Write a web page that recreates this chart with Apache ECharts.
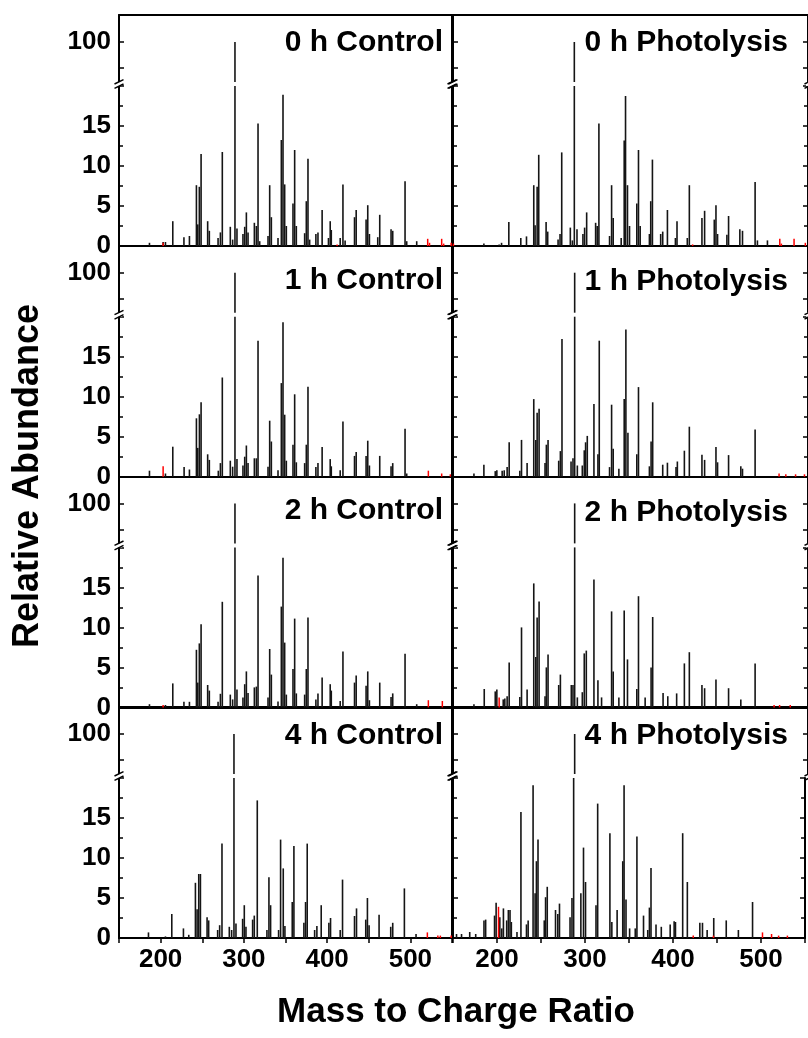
<!DOCTYPE html>
<html><head><meta charset="utf-8">
<script src="https://cdn.jsdelivr.net/npm/echarts@6/dist/echarts.min.js"></script>
<style>html,body{margin:0;padding:0;background:#fff}#c{width:808px;height:1038px}</style>
</head><body><div id="c"></div><script>
// ---------------- data (m/z, relative abundance) ----------------
const xTickLabels = [200, 300, 400, 500];
const lowerYTicks = [0, 5, 10, 15];
const upperYTicks = [100];
const panelTitles = ['0 h Control', '0 h Photolysis', '1 h Control', '1 h Photolysis',
                     '2 h Control', '2 h Photolysis', '4 h Control', '4 h Photolysis'];

const control0h = [[186.6,0.4],[203,0.5],[205.8,0.5],[214.6,3.1],[228,1.1],[234.6,1.25],[243,7.6],[244.6,2.7],[246.5,7.4],[248.6,11.5],[256.5,3.1],[258.5,1.9],[269,1],[271.8,1.7],[274.1,11.75],[283.7,2.4],[286.5,0.8],[289.3,100],[291.7,2.2],[298.9,1.5],[301,2.4],[303,4.2],[305,1.7],[312.6,2.9],[315,2.5],[317,15.3],[319,0.6],[329,1.25],[331,7.6],[333,3.6],[341,1],[345,13.25],[347,18.9],[349,7.7],[351,2.5],[359,5.3],[361,12],[363,2.5],[373,1.6],[375,5.6],[377,10.9],[379,0.8],[386.5,1.5],[389,1.7],[394,4.5],[401.6,1],[403.7,3.1],[405,2],[415.7,1],[419,7.7],[421.6,0.7],[432.9,3.6],[434.9,4.5],[446.8,3.3],[448.8,5.1],[450.8,1.5],[460.8,1.1],[463.2,3.9],[476.8,2.1],[478.8,1.9],[493.6,8.1],[495.6,0.6],[507.6,0.6]];
const photo0h = [[184.8,0.3],[202,0.2],[204.7,0.4],[212.9,3.0],[226.4,1.0],[232.8,1.2],[241,7.6],[242.5,2.6],[244.8,7.4],[246.6,11.4],[254.9,3.0],[256.7,1.8],[268.4,0.8],[270.6,1.5],[272.5,11.7],[282.2,2.3],[284.5,0.7],[286.7,100],[289.7,2.1],[296.4,1.5],[298.3,2.3],[300.6,4.2],[310.7,2.9],[312.5,2.5],[314.4,15.3],[326.4,1.25],[328.7,7.6],[330.5,3.5],[339.5,1],[342.9,13.2],[344.4,18.75],[346.6,7.6],[348.9,2.5],[357.1,5.3],[359,12],[360.9,2.5],[371.3,1.5],[372.8,5.6],[374.7,10.8],[384,1.5],[386.3,1.8],[391.6,4.5],[400.6,1],[402.4,3.1],[414,1],[416.3,7.6],[430.5,3.5],[433.5,4.4],[444.4,3.3],[446.3,5.1],[448.1,1.5],[458.6,1.4],[460.5,3.75],[473.2,2.1],[476.2,1.9],[490.4,8],[493,0.7],[504.3,0.7]];
const control1h = [[186.6,0.75],[205.8,0.4],[214.6,3.75],[228.2,1.2],[234.6,0.9],[243,7.3],[244.6,3.6],[246.6,7.8],[248.6,9.3],[256.5,2.8],[258.5,2.1],[269.3,0.75],[271.8,1.7],[274.1,12.4],[283.7,2],[286.5,1.25],[289.3,100],[291.7,2.2],[298.9,1.4],[301,2.5],[303,3.9],[305,1.7],[312.6,2.3],[315,2.3],[317,17],[329,1.25],[331,7],[333,4.4],[341,0.8],[345,11.7],[347,19.3],[349,7.75],[351,2],[359,4],[361,10.3],[363,1.8],[373,1.7],[375,4],[377,11.25],[386.5,1.2],[389,1.7],[394,3.7],[403.7,2.2],[405,1.3],[415.7,0.8],[419,6.9],[432.9,2.6],[434.9,3.1],[446.8,2.6],[448.8,4.5],[450.8,1.4],[463.2,2.6],[476.8,1.3],[478.8,1.7],[493.6,6],[495.6,0.4]];
const photo1h = [[173.6,0.4],[184.8,1.5],[197.6,0.7],[199.4,0.8],[205.4,0.75],[207.7,0.8],[211,1.2],[213.3,4.3],[225.3,0.75],[227.2,4.6],[233.5,1.7],[241,9.7],[243.3,4.6],[244.8,8],[247,8.5],[253.7,1.7],[255.2,4],[257.1,4.6],[269.1,2],[271,3.2],[272.8,17.2],[283,1.9],[285.2,2.3],[287.1,100],[290.1,1.4],[295.7,1.4],[297.9,3.3],[299.4,4.3],[301.3,5.1],[308.8,9.1],[313.3,2.8],[314.8,17],[326.4,1.2],[328.7,9],[330.5,3.5],[336.9,1],[342.9,9.7],[344.8,18.4],[347.1,5.5],[357.1,2.8],[359,11.2],[371.3,1.3],[373.2,4.4],[375,9.3],[386.3,1.5],[391.6,1.75],[401.3,1.2],[402.8,1.9],[410.7,3.25],[416.3,6.25],[430.5,2.75],[433.5,2.1],[446.3,3.7],[448.1,1.8],[460.5,2.7],[474.3,1.3],[476.2,1],[490.4,5.9]];
const control2h = [[186.6,0.4],[205.8,0.3],[214.6,3],[228,0.7],[234.6,0.7],[243,7.2],[244.6,3.1],[246.5,8],[248.6,10.4],[256.5,2.8],[258.5,2.1],[269,0.7],[271.8,1.7],[274.1,13.2],[283.7,1.6],[286.5,1],[289.3,100],[291.7,2.25],[298.9,1.25],[301,2.9],[303,4.5],[305,1.8],[312.6,2.5],[315,2.6],[317,16.5],[329,1.25],[331,7.3],[333,4.1],[341,0.75],[345,12.6],[347,18.7],[349,8.1],[351,1.6],[359,4.8],[361,11.1],[363,1.75],[373,1.6],[375,4.8],[377,11.25],[386.5,1],[389,1.75],[394,3.75],[403.7,2.9],[405,2.1],[415.7,0.8],[419,7],[432.9,3.1],[434.9,4],[446.8,2.7],[448.8,4.5],[450.8,0.9],[463.2,3.1],[476.8,1.3],[478.8,1.75],[493.6,6.7],[507.6,0.4]];
const photo2h = [[173.6,0.4],[185.2,2.3],[197.6,2],[199.4,2.25],[206.6,1],[208.4,1.1],[211,1.4],[213.3,5.6],[225.3,1.3],[227.2,10],[233.5,2.25],[241,15.5],[243.3,6.3],[244.8,11.25],[247,13.25],[253.7,1.4],[255.2,5],[257.1,6.6],[269.1,2.8],[271,4.1],[283.3,2.8],[285.2,2.8],[287.1,100],[290.1,1.25],[295.7,1.9],[297.9,6.75],[300.2,7.1],[308.8,16],[313.3,3.4],[317.4,1.25],[328.7,12],[330.5,4.5],[336.9,1.25],[342.9,12.1],[346.6,6],[357.1,2.3],[359,13.9],[366.5,1.25],[373.2,5],[375,11.3],[386.7,1.8],[392,1.4],[402,1.75],[410.7,5.5],[416.3,6.9],[430.5,2.8],[433.5,2.4],[446.3,3.5],[460.5,2.4],[474.3,1],[490.4,5.5]];
const control4h = [[185.4,0.7],[205.8,0.2],[213.4,3.0],[227.4,1.2],[233.8,0.4],[241.8,6.9],[243.8,3.6],[245.8,8],[247.8,8],[255.8,2.6],[257.7,2.2],[268.5,1],[270.9,1.6],[273.7,11.8],[282.5,1.4],[285.3,1],[288.1,100],[290.5,1.8],[298.5,2.4],[300.5,4.1],[302.5,1.4],[310.5,2.3],[312.5,2.8],[316.1,17.2],[327.7,1],[330.1,7.6],[332.1,4.1],[341.7,1],[344.1,12.3],[347.3,8.7],[349.3,1.5],[358.1,4.5],[360.1,11.5],[372.1,1.9],[374.1,4.5],[376.1,11.8],[385,1],[387.7,1.5],[392.9,4.1],[402.1,1.9],[404.1,2.5],[415.7,1],[418.5,7.3],[432.9,2.75],[435.3,3.7],[446.4,2.3],[448.4,5],[450.4,1.6],[462.4,2.9],[476.4,1.4],[478.8,1.9],[492.8,6.2],[506.8,0.5]];
const photo4h = [[154,0.5],[159.7,0.5],[169,0.75],[175.8,0.5],[185.2,2.2],[187.1,2.3],[197.2,2.8],[199,4.4],[203.2,2.6],[205.4,1.2],[207.3,3.7],[211,2.2],[212.9,3.5],[214.8,3.5],[216.3,2],[222.7,0.75],[227.2,15.75],[233.5,1.7],[235.4,2.2],[241,19.1],[243.3,5.6],[244.8,9.6],[246.6,12.3],[253.7,2.2],[255.2,5.1],[257.1,6.4],[266.5,3.5],[269.1,3],[271,4.3],[283,2.6],[285.2,5],[287.1,100],[295.3,5.6],[298.3,11.3],[300.6,7],[312.5,4.1],[314.4,16.8],[328.3,13.1],[330.5,2],[336.5,3.5],[342.9,9.6],[344.4,19.1],[346.6,4.8],[350.7,1.2],[357.1,1.2],[359,12.7],[366.5,2.8],[371.3,1],[373.2,3.8],[375,8.75],[380.7,1.7],[386.7,1.4],[396.8,1.7],[401.3,2.1],[402.8,2],[411,13.1],[416.3,7],[430.5,1.9],[433.5,1.9],[438.8,1],[446.3,2.5],[460.5,2.2],[474.3,1],[490.4,4.5]];

// red (blank) traces
const control0hRed = [[203,0.4],[412,0.2],[520.8,0.9],[523,0.4],[537.6,0.9],[540,0.3],[549,0.4]];
const photo0hRed = [[150.5,0.3],[420,0.2],[518.2,0.9],[520,0.3],[534.3,0.9],[547,0.4]];
const control1hRed = [[203,1.3],[521.6,0.75],[537.6,0.4],[548,0.3]];
const photo1hRed = [[517.4,0.4],[525,0.3],[536,0.3],[546,0.3]];
const control2hRed = [[203,0.3],[521.6,0.9],[538.4,0.8]];
const photo2hRed = [[202,1.25],[511.8,0.3],[518,0.3],[530,0.3]];
const control4hRed = [[520.4,0.7],[533,0.3],[536,0.3],[549,0.3]];
const photo4hRed = [[201.7,3.9],[423,0.3],[446,0.3],[501.7,0.7],[512,0.5],[520,0.3],[530,0.3]];

const spectra = [control0h, photo0h, control1h, photo1h, control2h, photo2h, control4h, photo4h];
const blanks = [control0hRed, photo0hRed, control1hRed, photo1hRed, control2hRed, photo2hRed, control4hRed, photo4hRed];

// ---------------- layout ----------------
const FONT = 'Liberation Sans';
const COLS = [{left: 119, width: 333}, {left: 453, width: 356}];
const ROW_BOTTOMS = [246, 476.7, 707.4, 938];
const ROW_H = 231, UPPER_H = 67, LOWER_H = 160;
const UPPER_RANGE = [92.3, 105.2];
const LOWER_RANGE = [0, 20];
const TITLE_BASE = [[54, 53.5], [292, 292.5], [522, 524], [747, 746.5]];
const TITLE_RIGHT = [443, 788];

const AX = {color: '#000', width: 2};
const TICK = {color: '#000', width: 1.5};
const labelStyle = {fontFamily: FONT, fontWeight: 'bold', fontSize: 26, color: '#000'};

const grids = [], xAxes = [], yAxes = [], series = [], graphics = [];

function peakRenderer(color, width) {
  return function (params, api) {
    const cs = params.coordSys;
    const x = api.coord([api.value(0), 0])[0];
    const yTop = api.coord([api.value(0), api.value(1)])[1];
    const yBase = cs.y + cs.height;
    const y1 = Math.max(yTop, cs.y);
    if (y1 >= yBase - 0.2) return null;
    return {type: 'line', shape: {x1: x, y1: yBase, x2: x, y2: y1},
            style: {stroke: color, lineWidth: width}};
  };
}

spectra.forEach((data, i) => {
  const row = Math.floor(i / 2), col = i % 2;
  const c = COLS[col], B = ROW_BOTTOMS[row];
  const T = B - ROW_H;
  const gU = grids.length, gL = gU + 1;
  grids.push({left: c.left, width: c.width, top: T, height: UPPER_H});
  grids.push({left: c.left, width: c.width, top: B - LOWER_H, height: LOWER_H});
  const bottomRow = row === 3;
  // x axes
  xAxes.push({gridIndex: gU, type: 'value', min: 150, max: 550, interval: 50, position: 'top',
    axisLine: {show: true, onZero: false, lineStyle: AX}, axisTick: {show: false},
    axisLabel: {show: false}, splitLine: {show: false}});
  xAxes.push({gridIndex: gL, type: 'value', min: 150, max: 550, interval: 50, position: 'bottom',
    axisLine: {show: true, onZero: false, lineStyle: AX},
    axisTick: {show: bottomRow, length: 5, lineStyle: TICK},
    axisLabel: Object.assign({show: bottomRow, margin: 9,
      formatter: v => xTickLabels.includes(v) ? String(v) : ''}, labelStyle),
    splitLine: {show: false}});
  // y axes (upper: left, right; lower: left, right)
  const yU = yAxes.length;
  [['left', col === 0, true], ['right', false, col === 1]].forEach(([pos, labels, ticks]) => {
    yAxes.push({gridIndex: gU, type: 'value', min: UPPER_RANGE[0], max: UPPER_RANGE[1], position: pos,
      axisLine: {show: true, onZero: false, lineStyle: AX},
      axisTick: {show: (pos === 'left') || ticks, inside: true, length: 5, customValues: [95, 100], lineStyle: TICK},
      axisLabel: Object.assign({show: labels, margin: 8, customValues: upperYTicks}, labelStyle),
      splitLine: {show: false}});
  });
  const yL = yAxes.length;
  [['left', col === 0, true], ['right', false, col === 1]].forEach(([pos, labels, ticks]) => {
    yAxes.push({gridIndex: gL, type: 'value', min: LOWER_RANGE[0], max: LOWER_RANGE[1], interval: 5, position: pos,
      axisLine: {show: true, onZero: false, lineStyle: AX},
      axisTick: {show: (pos === 'left') || ticks, inside: true, length: 5, lineStyle: TICK},
      minorTick: {show: (pos === 'left') || ticks, splitNumber: 2, length: 4, lineStyle: TICK},
      axisLabel: Object.assign({show: labels, margin: 8,
        formatter: v => lowerYTicks.includes(v) ? String(v) : ''}, labelStyle),
      splitLine: {show: false}});
  });
  // series
  series.push({type: 'custom', xAxisIndex: gU, yAxisIndex: yU, data: data, clip: false,
    renderItem: peakRenderer('#151515', 1.6), silent: true});
  series.push({type: 'custom', xAxisIndex: gL, yAxisIndex: yL, data: data, clip: false,
    renderItem: peakRenderer('#151515', 1.6), silent: true});
  series.push({type: 'custom', xAxisIndex: gL, yAxisIndex: yL, data: blanks[i], clip: false,
    renderItem: peakRenderer('#ff0000', 1.5), silent: true, z: 3});
  // panel title
  graphics.push({type: 'text', x: TITLE_RIGHT[col], y: TITLE_BASE[row][col] - 10.8, z: 100,
    style: {text: panelTitles[i], font: 'bold 30px "Liberation Sans"', fill: '#000',
            align: 'right', verticalAlign: 'middle'}});
  // axis break marks
  const yg = B - LOWER_H - 2;
  [c.left, c.left + c.width].forEach(xb => {
    graphics.push({type: 'rect', shape: {x: xb - 3, y: yg - 2, width: 6, height: 4},
      style: {fill: '#fff'}, z: 99});
    [-2.2, 2.2].forEach(d => {
      graphics.push({type: 'line', z: 100,
        shape: {x1: xb - 4.5, y1: yg + d + 2.2, x2: xb + 4.5, y2: yg + d - 2.2},
        style: {stroke: '#000', lineWidth: 1.5}});
    });
  });
});

graphics.push({type: 'text', x: 28, y: 476, rotation: Math.PI / 2, z: 100,
  style: {text: 'Relative Abundance', font: 'bold 36px "Liberation Sans"', fill: '#000',
          align: 'center', verticalAlign: 'middle'}});
graphics.push({type: 'text', x: 456, y: 1012, z: 100,
  style: {text: 'Mass to Charge Ratio', font: 'bold 35px "Liberation Sans"', fill: '#000',
          align: 'center', verticalAlign: 'middle'}});

const chart = echarts.init(document.getElementById('c'), null, {renderer: 'canvas'});
chart.setOption({
  animation: false,
  backgroundColor: '#fff',
  grid: grids, xAxis: xAxes, yAxis: yAxes, series: series, graphic: graphics
});
</script></body></html>
